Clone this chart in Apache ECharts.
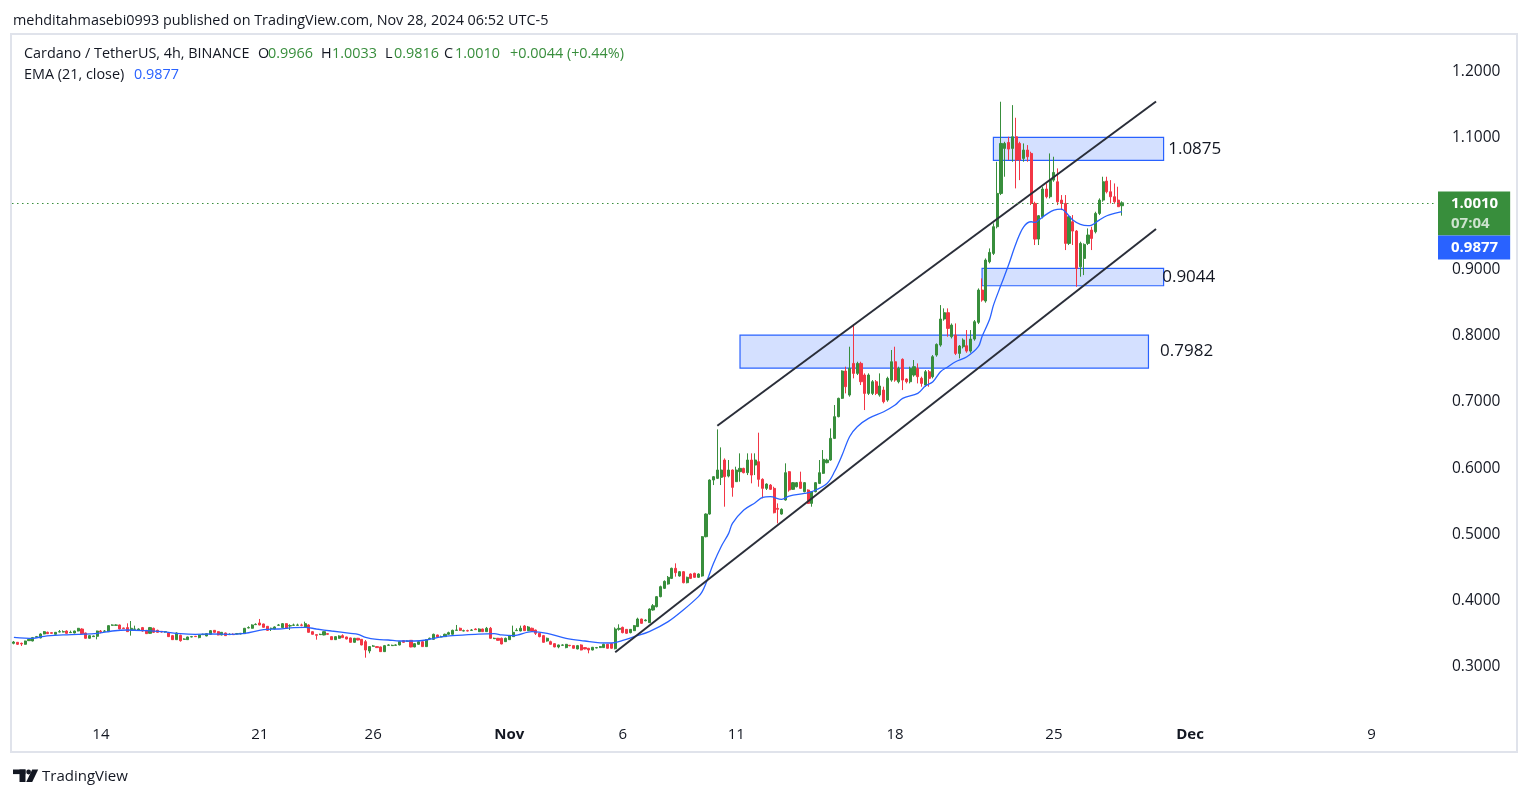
<!DOCTYPE html>
<html>
<head>
<meta charset="utf-8">
<title>Cardano / TetherUS 4h</title>
<script src="https://cdn.jsdelivr.net/npm/echarts@6.0.0/dist/echarts.min.js"></script>
<style>html,body{margin:0;padding:0;background:#fff;}#chart{width:1529px;height:798px;}</style>
</head>
<body>
<div id="chart"></div>
<script>
// ================= DATA =================
const FIRST_CANDLE_UTC = '2024-10-10T08:00:00Z'; // open time of first 4h candle
const SLOT_COUNT = 376;                           // 4h slots on the time scale (candles + empty future)
const tickDates  = ['2024-10-14','2024-10-21','2024-10-26','2024-11-01','2024-11-06','2024-11-11','2024-11-18','2024-11-25','2024-12-01','2024-12-09'];
const tickLabels = ['14','21','26','Nov','6','11','18','25','Dec','9'];
const monthLabels = ['Nov','Dec'];

// 4h candles: [open, close, low, high]
const ohlc = [
[0.3355,0.3375,0.3340,0.3390],[0.3370,0.3340,0.3330,0.3375],[0.3355,0.3345,0.3315,0.3365],[0.3340,0.3390,0.3335,0.3395],
[0.3395,0.3415,0.3390,0.3420],[0.3390,0.3441,0.3385,0.3451],[0.3446,0.3456,0.3441,0.3466],[0.3436,0.3496,0.3431,0.3506],
[0.3496,0.3531,0.3491,0.3541],[0.3521,0.3501,0.3496,0.3531],[0.3516,0.3506,0.3501,0.3521],[0.3491,0.3521,0.3486,0.3526],
[0.3526,0.3531,0.3521,0.3556],[0.3526,0.3531,0.3521,0.3551],[0.3541,0.3506,0.3501,0.3551],[0.3516,0.3521,0.3511,0.3546],
[0.3511,0.3541,0.3506,0.3546],[0.3541,0.3582,0.3536,0.3587],[0.3571,0.3501,0.3496,0.3582],[0.3511,0.3431,0.3426,0.3516],
[0.3431,0.3471,0.3426,0.3476],[0.3456,0.3466,0.3451,0.3471],[0.3461,0.3541,0.3415,0.3546],[0.3541,0.3531,0.3506,0.3556],
[0.3536,0.3541,0.3531,0.3556],[0.3531,0.3622,0.3526,0.3627],[0.3627,0.3632,0.3622,0.3642],[0.3627,0.3632,0.3622,0.3642],
[0.3632,0.3571,0.3566,0.3637],[0.3587,0.3577,0.3571,0.3592],[0.3592,0.3531,0.3526,0.3657],[0.3551,0.3582,0.3471,0.3692],
[0.3566,0.3571,0.3541,0.3622],[0.3551,0.3571,0.3546,0.3582],[0.3592,0.3541,0.3531,0.3602],[0.3551,0.3501,0.3496,0.3556],
[0.3506,0.3592,0.3501,0.3602],[0.3582,0.3521,0.3511,0.3592],[0.3551,0.3521,0.3516,0.3561],[0.3536,0.3526,0.3516,0.3541],
[0.3526,0.3531,0.3516,0.3541],[0.3511,0.3456,0.3451,0.3516],[0.3471,0.3410,0.3405,0.3481],[0.3410,0.3511,0.3405,0.3521],
[0.3476,0.3395,0.3380,0.3486],[0.3415,0.3420,0.3410,0.3431],[0.3410,0.3451,0.3405,0.3456],[0.3451,0.3456,0.3446,0.3466],
[0.3461,0.3456,0.3451,0.3466],[0.3441,0.3481,0.3431,0.3486],[0.3486,0.3491,0.3481,0.3501],[0.3466,0.3501,0.3461,0.3506],
[0.3491,0.3546,0.3486,0.3556],[0.3551,0.3521,0.3516,0.3556],[0.3531,0.3481,0.3476,0.3536],[0.3481,0.3521,0.3476,0.3526],
[0.3511,0.3471,0.3466,0.3516],[0.3486,0.3491,0.3481,0.3506],[0.3491,0.3486,0.3481,0.3506],[0.3496,0.3501,0.3491,0.3511],
[0.3496,0.3506,0.3491,0.3511],[0.3501,0.3582,0.3496,0.3587],[0.3587,0.3592,0.3582,0.3612],[0.3582,0.3632,0.3577,0.3642],
[0.3637,0.3642,0.3632,0.3657],[0.3662,0.3632,0.3627,0.3723],[0.3647,0.3597,0.3592,0.3652],[0.3612,0.3551,0.3541,0.3617],
[0.3577,0.3582,0.3541,0.3592],[0.3571,0.3602,0.3566,0.3612],[0.3627,0.3632,0.3622,0.3647],[0.3592,0.3652,0.3587,0.3662],
[0.3652,0.3582,0.3577,0.3657],[0.3617,0.3622,0.3556,0.3642],[0.3627,0.3632,0.3617,0.3652],[0.3627,0.3632,0.3622,0.3652],
[0.3632,0.3627,0.3612,0.3652],[0.3602,0.3652,0.3597,0.3682],[0.3632,0.3521,0.3516,0.3642],[0.3531,0.3491,0.3486,0.3536],
[0.3486,0.3476,0.3410,0.3491],[0.3486,0.3491,0.3481,0.3501],[0.3481,0.3531,0.3476,0.3536],[0.3501,0.3491,0.3486,0.3506],
[0.3456,0.3410,0.3405,0.3461],[0.3410,0.3456,0.3405,0.3461],[0.3431,0.3466,0.3426,0.3476],[0.3471,0.3441,0.3436,0.3491],
[0.3451,0.3420,0.3415,0.3456],[0.3436,0.3370,0.3365,0.3441],[0.3370,0.3431,0.3365,0.3436],[0.3431,0.3405,0.3400,0.3436],
[0.3415,0.3330,0.3325,0.3420],[0.3380,0.3254,0.3138,0.3405],[0.3239,0.3305,0.3204,0.3310],[0.3310,0.3315,0.3305,0.3330],
[0.3305,0.3290,0.3285,0.3310],[0.3300,0.3229,0.3224,0.3305],[0.3229,0.3320,0.3224,0.3330],[0.3325,0.3330,0.3320,0.3340],
[0.3320,0.3325,0.3315,0.3335],[0.3325,0.3330,0.3320,0.3340],[0.3330,0.3380,0.3325,0.3385],[0.3395,0.3370,0.3365,0.3400],
[0.3385,0.3390,0.3380,0.3400],[0.3400,0.3300,0.3295,0.3405],[0.3300,0.3350,0.3295,0.3355],[0.3340,0.3380,0.3335,0.3390],
[0.3380,0.3305,0.3300,0.3390],[0.3305,0.3410,0.3300,0.3415],[0.3425,0.3431,0.3420,0.3441],[0.3415,0.3491,0.3410,0.3501],
[0.3481,0.3451,0.3446,0.3486],[0.3451,0.3456,0.3446,0.3471],[0.3456,0.3491,0.3451,0.3501],[0.3491,0.3516,0.3486,0.3531],
[0.3491,0.3551,0.3486,0.3561],[0.3551,0.3556,0.3541,0.3632],[0.3582,0.3551,0.3541,0.3592],[0.3541,0.3546,0.3536,0.3561],
[0.3546,0.3541,0.3536,0.3561],[0.3551,0.3556,0.3546,0.3571],[0.3571,0.3561,0.3556,0.3582],[0.3531,0.3571,0.3526,0.3582],
[0.3571,0.3531,0.3526,0.3577],[0.3531,0.3582,0.3526,0.3602],[0.3582,0.3431,0.3426,0.3602],[0.3425,0.3431,0.3420,0.3441],
[0.3431,0.3400,0.3395,0.3436],[0.3431,0.3345,0.3340,0.3441],[0.3380,0.3431,0.3375,0.3441],[0.3410,0.3471,0.3405,0.3481],
[0.3456,0.3521,0.3451,0.3622],[0.3546,0.3551,0.3541,0.3582],[0.3541,0.3582,0.3536,0.3622],[0.3617,0.3546,0.3541,0.3632],
[0.3546,0.3602,0.3541,0.3617],[0.3582,0.3541,0.3531,0.3592],[0.3556,0.3506,0.3481,0.3561],[0.3506,0.3456,0.3446,0.3511],
[0.3471,0.3370,0.3365,0.3481],[0.3390,0.3431,0.3380,0.3441],[0.3380,0.3340,0.3335,0.3395],[0.3350,0.3300,0.3295,0.3355],
[0.3300,0.3330,0.3280,0.3335],[0.3325,0.3330,0.3315,0.3340],[0.3290,0.3340,0.3280,0.3345],[0.3325,0.3320,0.3310,0.3330],
[0.3320,0.3280,0.3275,0.3325],[0.3270,0.3320,0.3264,0.3330],[0.3330,0.3254,0.3249,0.3340],[0.3290,0.3270,0.3264,0.3295],
[0.3280,0.3254,0.3204,0.3285],[0.3254,0.3295,0.3249,0.3300],[0.3285,0.3290,0.3280,0.3300],[0.3290,0.3305,0.3285,0.3315],
[0.3290,0.3340,0.3285,0.3350],[0.3340,0.3280,0.3275,0.3345],[0.3350,0.3280,0.3275,0.3355],
[0.3274,0.3571,0.3264,0.3596],[0.3566,0.3581,0.3546,0.3642],[0.3596,0.3516,0.3506,0.3607],[0.3566,0.3506,0.3496,0.3571],
[0.3516,0.3566,0.3506,0.3571],[0.3546,0.3622,0.3541,0.3632],[0.3607,0.3722,0.3602,0.3742],[0.3722,0.3657,0.3652,0.3727],
[0.3697,0.3707,0.3687,0.3717],[0.3667,0.3873,0.3662,0.3883],[0.3858,0.3923,0.3848,0.3948],[0.3908,0.4060,0.3898,0.4070],
[0.4060,0.4211,0.4050,0.4226],[0.4185,0.4291,0.4175,0.4306],[0.4251,0.4352,0.4241,0.4372],[0.4336,0.4488,0.4326,0.4498],
[0.4488,0.4422,0.4362,0.4563],[0.4372,0.4437,0.4362,0.4447],[0.4437,0.4271,0.4261,0.4447],[0.4271,0.4352,0.4261,0.4362],
[0.4402,0.4336,0.4326,0.4412],[0.4412,0.4352,0.4342,0.4422],[0.4352,0.4402,0.4342,0.4412],[0.4372,0.4966,0.4362,0.4976],
[0.4966,0.5308,0.4956,0.5318],[0.5308,0.5822,0.5298,0.5832],[0.5822,0.5872,0.5746,0.5882],[0.5847,0.5973,0.5837,0.6587],
[0.5862,0.5973,0.5746,0.6315],[0.6124,0.5872,0.5419,0.6149],[0.5882,0.5973,0.5862,0.6124],[0.5973,0.5711,0.5570,0.5983],
[0.5797,0.5973,0.5797,0.6023],[0.5948,0.5998,0.5797,0.6225],[0.5998,0.5933,0.5923,0.6008],[0.5933,0.6124,0.5897,0.6225],
[0.6124,0.5897,0.5772,0.6225],[0.6048,0.6124,0.5897,0.6225],[0.6099,0.5832,0.5721,0.6537],[0.5832,0.5696,0.5545,0.5848],
[0.5696,0.5761,0.5671,0.5771],[0.5746,0.5681,0.5671,0.5761],[0.5696,0.5328,0.5318,0.5721],[0.5394,0.5379,0.5167,0.5469],
[0.5308,0.5379,0.5298,0.5394],[0.5520,0.5933,0.5510,0.6074],[0.5948,0.5671,0.5646,0.5958],[0.5681,0.5782,0.5671,0.5792],
[0.5721,0.5782,0.5711,0.5792],[0.5792,0.5696,0.5686,0.5948],[0.5646,0.5782,0.5636,0.5792],[0.5671,0.5469,0.5459,0.5681],
[0.5469,0.5646,0.5419,0.5656],[0.5646,0.5782,0.5636,0.5792],[0.5771,0.5933,0.5761,0.6124],[0.5923,0.6134,0.5913,0.6275],
[0.6084,0.6124,0.6074,0.6144],[0.6124,0.6451,0.6114,0.6602],[0.6451,0.6779,0.6441,0.6955],[0.6779,0.7056,0.6769,0.7066],
[0.7056,0.7469,0.7046,0.7479],[0.7469,0.7232,0.7131,0.7534],[0.7106,0.7509,0.7081,0.7836],[0.7584,0.7433,0.7358,0.8178],
[0.7433,0.7584,0.7408,0.7609],[0.7584,0.7307,0.7257,0.7609],[0.7408,0.7131,0.6879,0.7433],[0.7131,0.7408,0.7106,0.7433],
[0.7131,0.7307,0.7106,0.7332],[0.7307,0.7131,0.7106,0.7332],[0.7106,0.7242,0.7081,0.7433],[0.7181,0.7005,0.6980,0.7232],
[0.7030,0.7358,0.7005,0.7383],[0.7332,0.7609,0.7307,0.7786],[0.7609,0.7332,0.7307,0.7836],[0.7307,0.7509,0.7282,0.7534],
[0.7645,0.7332,0.7181,0.7660],[0.7348,0.7307,0.7282,0.7358],[0.7307,0.7509,0.7282,0.7534],[0.7408,0.7534,0.7383,0.7635],
[0.7509,0.7383,0.7282,0.7584],[0.7358,0.7282,0.7232,0.7383],[0.7257,0.7458,0.7232,0.7484],[0.7458,0.7358,0.7232,0.7484],
[0.7383,0.7685,0.7358,0.7710],[0.7710,0.7871,0.7685,0.7886],[0.7861,0.8254,0.7836,0.8465],[0.8254,0.8350,0.8229,0.8415],
[0.8350,0.8113,0.7987,0.8415],[0.7987,0.8163,0.7961,0.8188],[0.8012,0.7735,0.7710,0.8188],[0.7735,0.7846,0.7660,0.7861],
[0.7836,0.7937,0.7810,0.7962],[0.7851,0.7770,0.7745,0.8088],[0.7770,0.7952,0.7745,0.8088],[0.7952,0.8214,0.7927,0.8239],
[0.8204,0.8692,0.8178,0.8717],[0.8692,0.8541,0.8516,0.8868],[0.8526,0.9145,0.8501,0.9170],[0.9120,0.9261,0.9095,0.9321],
[0.9246,0.9649,0.9221,0.9700],[0.9649,1.0152,0.9624,1.0630],[1.0152,1.0907,1.0127,1.1537],[1.0832,1.0907,1.0404,1.0932],
[1.0922,1.0822,1.0656,1.1008],[1.0832,1.1008,1.0630,1.1486],[1.1008,1.0656,1.0228,1.1295],[1.0907,1.0656,1.0353,1.0932],
[1.0681,1.0807,1.0630,1.0907],[1.0807,1.0706,1.0630,1.0882],[1.0756,1.0001,0.9976,1.0782],[1.0001,0.9462,0.9372,1.0026],
[0.9462,0.9815,0.9372,0.9825],[0.9800,1.0218,0.9775,1.0253],[1.0218,1.0102,1.0077,1.0303],[1.0102,1.0353,1.0077,1.0756],
[1.0353,1.0469,1.0328,1.0706],[1.0328,1.0026,0.9976,1.0530],[1.0051,1.0001,0.9900,1.0127],[1.0001,0.9397,0.9296,1.0127],
[0.9397,0.9800,0.9372,0.9825],[0.9724,0.9583,0.9372,0.9825],[0.9583,0.9019,0.8742,0.9598],[0.9044,0.9397,0.8893,0.9422],
[0.9170,0.9382,0.8918,0.9397],[0.9397,0.9523,0.9372,0.9623],[0.9598,0.9472,0.9296,0.9649],[0.9573,0.9850,0.9548,0.9875],
[0.9850,1.0051,0.9825,1.0077],[1.0051,1.0328,1.0026,1.0404],[1.0338,1.0177,1.0152,1.0404],[1.0177,1.0102,1.0001,1.0353],
[1.0102,1.0026,0.9996,1.0303],[1.0051,0.9951,0.9951,1.0253],[0.9966,1.0010,0.9816,1.0033]
];

// EMA(21, close): candle index -> value
const emaIdx = [0,5,8,13,17,22,26,30,35,39,44,48,52,57,61,66,70,74,77,80,84,89,91,93,96,99,102,106,109,113,116,122,127,129,132,137,141,146,151,155,158,161,164,168,173,177,181,182,183,185,187,189,190,193,196,198,200,203,205,209,211,215,217,219,221,223,226,230,233,235,239,241,243,245,247,249,252,255,256,258,259,261,263,265,267,269,270,271,273,275,277,278,280,282,284,285,287,289,291,293];
const emaVal = [0.3446,0.3431,0.3461,0.3481,0.3491,0.3506,0.3541,0.3556,0.3546,0.3531,0.3501,0.3491,0.3496,0.3491,0.3506,0.3561,0.3571,0.3592,0.3597,0.3571,0.3541,0.3506,0.3491,0.3446,0.3415,0.3405,0.3390,0.3390,0.3405,0.3451,0.3471,0.3491,0.3501,0.3481,0.3471,0.3531,0.3506,0.3431,0.3390,0.3362,0.3360,0.3400,0.3455,0.3531,0.3682,0.3858,0.4060,0.4135,0.4261,0.4563,0.4815,0.5016,0.5167,0.5369,0.5479,0.5560,0.5570,0.5530,0.5580,0.5620,0.5646,0.5771,0.5950,0.6200,0.6480,0.6627,0.6753,0.6854,0.6955,0.7056,0.7131,0.7242,0.7307,0.7458,0.7534,0.7609,0.7685,0.7836,0.7990,0.8250,0.8460,0.8767,0.9070,0.9400,0.9648,0.9724,0.9714,0.9749,0.9835,0.9900,0.9915,0.9875,0.9749,0.9684,0.9664,0.9674,0.9749,0.9815,0.9850,0.9877];

// drawn zones (candle index span, price span) and their labels
const zoneFrom   = [259, 256, 192];
const zoneTo     = [304, 304, 300];
const zoneTop    = [1.0998, 0.9020, 0.8012];
const zoneBottom = [1.0651, 0.8757, 0.7514];
const zoneText   = ['1.0875', '0.9044', '0.7982'];

// channel trend lines: [candle index, price]
const channelUpper = [[186, 0.6641], [302, 1.1541]];
const channelLower = [[159, 0.3219], [302, 0.9615]];

const lastPrice = 1.0010;
const lastEma = 0.9877;
const countdown = '07:04';
const headerOHLC = { O: '0.9966', H: '1.0033', L: '0.9816', C: '1.0010', chg: '+0.0044 (+0.44%)' };

// ================= CHART =================
const FONT = "'Open Sans', Roboto, sans-serif";
const TXT = '#131722';
const UP = '#388e3c', DOWN = '#f23645';
const BLUE = '#2962ff';
const zoneLabelGap = [4, -2, 11];
const HEAD_FONT = '14.4px ' + FONT;

const categories = [];
const t0 = Date.parse(FIRST_CANDLE_UTC);
for (let i = 0; i < SLOT_COUNT; i++) {
  categories.push(new Date(t0 + i * 4 * 3600 * 1000).toISOString().slice(0, 16).replace('T', ' '));
}
const labelMap = {};
tickDates.forEach((d, i) => { labelMap[d + ' 04:00'] = tickLabels[i]; });

const chart = echarts.init(document.getElementById('chart'), null, { renderer: 'canvas' });

const zones = zoneFrom.map((f, i) => [
  { xAxis: f, yAxis: zoneTop[i],
    label: { show: true, position: 'right', distance: zoneLabelGap[i], formatter: zoneText[i],
             color: TXT, fontSize: 17, fontFamily: FONT, padding: [3, 0, 0, 0] } },
  { xAxis: zoneTo[i], yAxis: zoneBottom[i] }
]);

const txt = (x, y, text, color) => ({
  type: 'text', x: x, y: y, silent: true,
  style: { text: text, fill: color || TXT, font: HEAD_FONT, textVerticalAlign: 'middle' }
});

const option = {
  animation: false,
  backgroundColor: '#ffffff',
  grid: { left: 12, right: 95, top: 38, bottom: 65, containLabel: false },
  xAxis: {
    type: 'category', data: categories, boundaryGap: true,
    axisLine: { show: false }, axisTick: { show: false }, splitLine: { show: false },
    axisLabel: {
      interval: (idx, val) => labelMap[val] !== undefined,
      formatter: (val) => {
        const t = labelMap[val] || '';
        return monthLabels.indexOf(t) >= 0 ? '{m|' + t + '}' : t;
      },
      margin: 2, verticalAlign: 'middle', color: TXT, fontSize: 15, fontFamily: FONT,
      rich: { m: { fontWeight: 'bold', fontSize: 15, color: TXT, fontFamily: FONT } }
    }
  },
  yAxis: {
    type: 'value', position: 'right', min: 0.2, max: 1.25, interval: 0.1,
    axisLine: { show: false }, axisTick: { show: false }, splitLine: { show: false },
    axisLabel: { color: TXT, fontSize: 15.5, fontFamily: FONT, margin: 18, padding: [2, 0, 0, 0],
                 showMinLabel: false, showMaxLabel: false,
                 formatter: (v) => v.toFixed(4) }
  },
  series: [
    {
      type: 'candlestick', data: ohlc, barWidth: 2.6, z: 2,
      itemStyle: { color: UP, color0: DOWN, borderColor: UP, borderColor0: DOWN, borderWidth: 1 },
      markArea: {
        silent: true, z: 1,
        itemStyle: { color: 'rgba(41,98,255,0.2)', borderColor: BLUE, borderWidth: 1.2 },
        data: zones
      },
      markLine: {
        silent: true, symbol: ['none', 'none'], animation: false,
        data: [
          [ { coord: channelUpper[0], lineStyle: { color: '#2a2e39', width: 2, type: 'solid' }, label: { show: false } },
            { coord: channelUpper[1] } ],
          [ { coord: channelLower[0], lineStyle: { color: '#2a2e39', width: 2, type: 'solid' }, label: { show: false } },
            { coord: channelLower[1] } ],
          { yAxis: lastPrice,
            lineStyle: { color: UP, type: [1.5, 3.5], width: 1 },
            label: { show: true, position: 'end', distance: 4, offset: [0, 10],
                     formatter: '{a|' + lastPrice.toFixed(4) + '}\n{b|' + countdown + '}',
                     backgroundColor: UP, padding: [2, 12, 2, 13],
                     rich: { a: { color: '#ffffff', fontSize: 15, fontWeight: 'bold', fontFamily: FONT, lineHeight: 20 },
                             b: { color: 'rgba(255,255,255,0.75)', fontSize: 15, fontWeight: 'bold', fontFamily: FONT, lineHeight: 20 } } } }
        ]
      }
    },
    {
      type: 'line', data: emaIdx.map((k, i) => [k, emaVal[i]]),
      showSymbol: false, smooth: 0.35, z: 3, silent: true,
      lineStyle: { color: BLUE, width: 1.3 },
      markLine: {
        silent: true, symbol: ['none', 'none'], animation: false,
        data: [
          { yAxis: lastEma, lineStyle: { color: 'rgba(0,0,0,0)', width: 0 },
            label: { show: true, position: 'end', distance: 4, offset: [0, 37.5],
                     formatter: lastEma.toFixed(4), backgroundColor: BLUE, color: '#ffffff',
                     fontSize: 15, fontWeight: 'bold', fontFamily: FONT, padding: [3, 12, 3, 13], lineHeight: 18 } }
        ]
      }
    }
  ],
  graphic: [
    { type: 'rect', silent: true, z: -1,
      shape: { x: 11, y: 34, width: 1506, height: 718 },
      style: { fill: 'none', stroke: '#e0e3eb', lineWidth: 2 } },
    txt(13, 21, 'mehditahmasebi0993 published on TradingView.com, Nov 28, 2024 06:52 UTC-5'),
    txt(24, 54, 'Cardano / TetherUS, 4h, BINANCE'),
    txt(258, 54, 'O'), txt(268, 54, headerOHLC.O, UP),
    txt(321, 54, 'H'), txt(332, 54, headerOHLC.H, UP),
    txt(385, 54, 'L'), txt(394, 54, headerOHLC.L, UP),
    txt(444, 54, 'C'), txt(455, 54, headerOHLC.C, UP),
    txt(510, 54, headerOHLC.chg, UP),
    txt(24, 75, 'EMA (21, close)'),
    txt(134, 75, lastEma.toFixed(4), BLUE),
    // TradingView logo + wordmark
    { type: 'group', silent: true, children: [
      { type: 'rect', shape: { x: 13, y: 769.5, width: 12.5, height: 4.6 }, style: { fill: TXT } },
      { type: 'rect', shape: { x: 19.5, y: 769.5, width: 6, height: 12.5 }, style: { fill: TXT } },
      { type: 'circle', shape: { cx: 28.6, cy: 772, r: 2.4 }, style: { fill: TXT } },
      { type: 'polygon', shape: { points: [[32.2, 769.5], [38.2, 769.5], [32.2, 782], [26.2, 782]] }, style: { fill: TXT } }
    ]},
    { type: 'text', x: 42, y: 777, silent: true,
      style: { text: 'TradingView', fill: TXT, font: '15px ' + FONT, textVerticalAlign: 'middle' } }
  ]
};

chart.setOption(option);
</script>
</body>
</html>
